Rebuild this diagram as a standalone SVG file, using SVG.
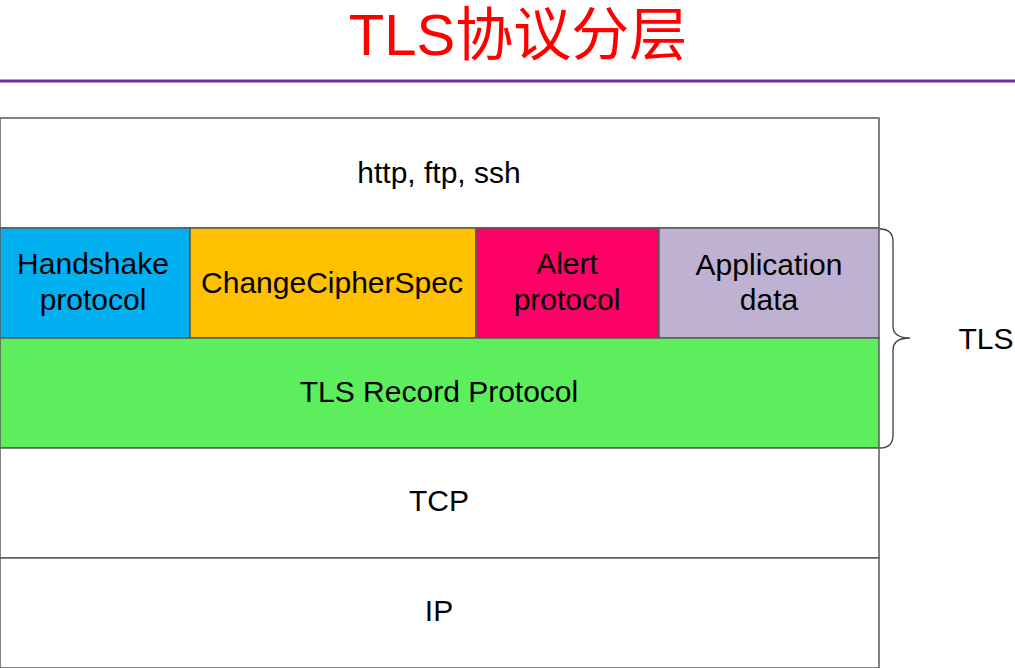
<svg xmlns="http://www.w3.org/2000/svg" width="1015" height="668" viewBox="0 0 1015 668">
<style>
.t{font-family:"Liberation Sans","DejaVu Sans",sans-serif;font-size:30px;fill:#000;text-anchor:middle}
.b{stroke:#595959;stroke-width:1.5}
</style>
<rect width="1015" height="668" fill="#fff"/>
<g id="title">
<text x="518" y="55" font-family="'Liberation Sans','Noto Sans CJK SC',sans-serif" font-size="58" fill="#FF0000" text-anchor="middle">TLS协议分层</text>
<rect x="0" y="79.5" width="1015" height="3" fill="#7030A0"/>
</g>
<g id="app"><rect class="b" x="0" y="118" width="879" height="110" fill="#fff"/><text class="t" x="439" y="183">http, ftp, ssh</text></g>
<g id="handshake"><rect class="b" x="0" y="228" width="190" height="110" fill="#00B0F0"/><text class="t" x="93" y="274">Handshake</text><text class="t" x="93" y="310">protocol</text></g>
<g id="ccs"><rect class="b" x="190" y="228" width="286" height="110" fill="#FFC000"/><text class="t" x="332" y="293">ChangeCipherSpec</text></g>
<g id="alert"><rect class="b" x="476" y="228" width="183" height="110" fill="#FF0066"/><text class="t" x="567" y="274">Alert</text><text class="t" x="567" y="310">protocol</text></g>
<g id="appdata"><rect class="b" x="659" y="228" width="220" height="110" fill="#BFB1D1"/><text class="t" x="769" y="275">Application</text><text class="t" x="769" y="310">data</text></g>
<g id="record"><rect class="b" x="0" y="338" width="879" height="110" fill="#5CEE5C"/><text class="t" x="439" y="402">TLS Record Protocol</text></g>
<g id="tcp"><rect class="b" x="0" y="448" width="879" height="110" fill="#fff"/><text class="t" x="439" y="511">TCP</text></g>
<g id="ip"><rect class="b" x="0" y="558" width="879" height="110" fill="#fff"/><text class="t" x="439" y="621">IP</text></g>
<g id="connectors">
<path d="M880 229 Q893 229 893 242 L893 326 Q893 338 910 338 Q893 338 893 350 L893 435 Q893 448 880 448" fill="none" stroke="#404040" stroke-width="1.3"/>
</g>
<g id="tls"><text class="t" x="986" y="349">TLS</text></g>
</svg>
